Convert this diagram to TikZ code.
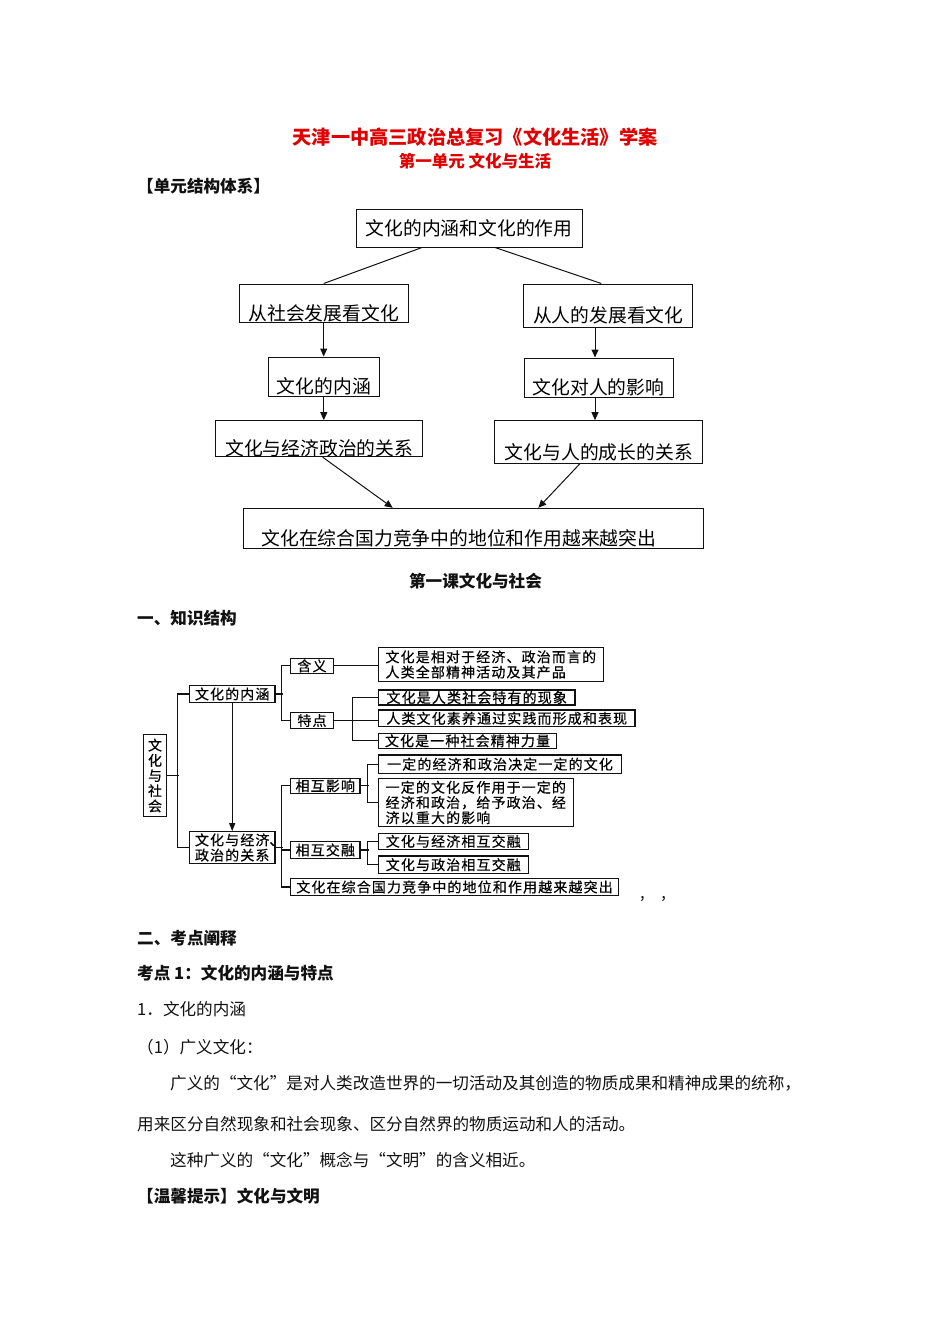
\documentclass[tikz,border=0pt]{standalone}
\usepackage{fontspec}
\setmainfont{Noto Sans CJK SC}
\newfontfamily\mapfont[LetterSpace=8,FakeBold=0.5]{Noto Sans CJK SC}
\usepackage{xcolor}
\usepackage{tikz}
\usetikzlibrary{arrows.meta,calc}
\definecolor{ink}{HTML}{111111}
\definecolor{titlered}{HTML}{E00000}
\tikzset{
  titletext/.style={font=\fontsize{19.2}{22}\selectfont\bfseries,text=titlered,inner sep=0pt},
  subtext/.style={font=\fontsize{16.5}{20}\selectfont\bfseries,text=titlered,inner sep=0pt},
  head/.style={font=\fontsize{16.6}{20}\selectfont\bfseries,text=ink,anchor=west,inner sep=0pt},
  body/.style={font=\fontsize{16.6}{20}\selectfont,text=ink,anchor=west,inner sep=0pt},
  ubox/.style={draw=ink,line width=1pt,inner xsep=3pt,inner ysep=0pt,align=center,font=\fontsize{18.8}{22}\selectfont},
  lowtext/.style={text height=35pt,text depth=0.8pt},
  uline/.style={draw=ink,line width=1pt},
  uarr/.style={-{Triangle[length=8pt,width=7pt]},line width=1pt,draw=ink},
  kbox/.style={draw=ink,line width=1.2pt,inner sep=0pt,font=\mapfont\fontsize{14}{15.2}\selectfont},
  kline/.style={draw=ink,line width=1.2pt},
  karr/.style={-{Triangle[length=8pt,width=6pt]},line width=1.2pt,draw=ink}
}
\begin{document}
\begin{tikzpicture}[x=1pt,y=-1pt]
  \useasboundingbox (0,0) rectangle (950,1344);
  \node[titletext] (title) at (475,137) {天津一中高三政治总复习《文化生活》学案};
  \node[subtext] (unitname) at (475,161) {第一单元\ 文化与生活};
  \node[head] (unithead) at (137,186) {【单元结构体系】};

  \node[ubox,minimum width=226pt,minimum height=38pt] (core) at (469,228) {文化的内涵和文化的作用};
  \node[ubox,lowtext,minimum width=169pt,minimum height=38pt] (soc) at (323.7,303) {从社会发展看文化};
  \node[ubox,lowtext,minimum width=169pt,minimum height=43pt] (hum) at (608.3,305.5) {从人的发展看文化};
  \node[ubox,lowtext,minimum width=111pt,minimum height=39pt] (meaning) at (323.8,376.5) {文化的内涵};
  \node[ubox,lowtext,minimum width=149pt,minimum height=39pt] (infl) at (598.5,377.5) {文化对人的影响};
  \node[ubox,lowtext,minimum width=207pt,minimum height=36pt] (ecpo) at (319.2,438.7) {文化与经济政治的关系};
  \node[ubox,lowtext,minimum width=208pt,minimum height=42.6pt] (grow) at (598.8,442) {文化与人的成长的关系};
  \node[ubox,lowtext,minimum width=460pt,minimum height=40pt] (power) at (473.3,528.3) {文化在综合国力竞争中的地位和作用越来越突出\hspace*{29pt}};
  \draw[uline] ($(core.south)+(-47,0)$) -- (soc.north);
  \draw[uline] ($(core.south)+(26,0)$) -- ($(hum.north)+(-7,0)$);
  \draw[uarr] (soc.south) -- (soc.south |- meaning.north);
  \draw[uarr] (meaning.south) -- (meaning.south |- ecpo.north);
  \draw[uarr] ($(infl.north |- hum.south)+(-3.5,0)$) -- ($(infl.north)+(-3.5,0)$);
  \draw[uarr] ($(infl.south)+(-3.5,0)$) -- ($(infl.south |- grow.north)+(-3.5,0)$);
  \draw[uarr] ($(ecpo.south)+(3.5,0)$) -- ($(power.north)+(-80.6,0)$);
  \draw[uarr] ($(grow.south)+(-19,0)$) -- ($(power.north)+(65,0)$);

  \node[head,anchor=center] (lesson) at (475.5,581) {第一课文化与社会};
  \node[head] (knowhead) at (137,618) {一、知识结构};

  \node[kbox,minimum width=23.4pt,minimum height=82.4pt,align=center] (ws) at (155,775.5) {文\\化\\与\\社\\会};
  \node[kbox,minimum width=85.7pt,minimum height=17pt] (nh) at (232.2,694) {文化的内涵};
  \node[kbox,minimum width=85.7pt,minimum height=31.6pt,align=left] (gx) at (232.2,847.5) {文化与经济\rlap{、}\\政治的关系};
  \node[kbox,minimum width=42.6pt,minimum height=15pt] (hy) at (312,665.8) {含义};
  \node[kbox,minimum width=42.6pt,minimum height=16pt] (td) at (312,720.5) {特点};
  \node[kbox,minimum width=225pt,minimum height=34.4pt,align=left] (dy) at (490.8,664.5) {文化是相对于经济、政治而言的\\人类全部精神活动及其产品};
  \node[kbox,minimum width=196.7pt,minimum height=15pt] (t1) at (476.7,697.5) {文化是人类社会特有的现象};
  \node[kbox,minimum width=256.7pt,minimum height=16.7pt] (t2) at (506.7,718.3) {人类文化素养通过实践而形成和表现};
  \node[kbox,minimum width=178.4pt,minimum height=15pt] (t3) at (467.5,740.8) {文化是一种社会精神力量};
  \node[kbox,minimum width=243.4pt,minimum height=18.3pt] (y1) at (500,764.2) {一定的经济和政治决定一定的文化};
  \node[kbox,minimum width=195pt,minimum height=48.4pt,align=left] (y2) at (475.8,802.5) {一定的文化反作用于一定的\\经济和政治，给予政治、经\\济以重大的影响};
  \node[kbox,minimum width=69.3pt,minimum height=15pt] (yx) at (325.3,785.8) {相互影响};
  \node[kbox,minimum width=69.3pt,minimum height=16.6pt] (jr) at (325.3,850) {相互交融};
  \node[kbox,minimum width=150pt,minimum height=16pt] (j1) at (453.3,841.3) {文化与经济相互交融};
  \node[kbox,minimum width=150pt,minimum height=17.3pt] (j2) at (453.3,864.7) {文化与政治相互交融};
  \node[kbox,minimum width=327.6pt,minimum height=17pt] (dw) at (454.5,887) {文化在综合国力竞争中的地位和作用越来越突出};
  \draw[kline] (ws.east) -- ++(11.3,0);
  \draw[kline] (nh.west) -- ++(-11.4,0) |- (gx.west);
  \draw[karr] (nh) -- (gx);
  \draw[kline] (nh.east) -- ++(7.3,0);
  \draw[kline] (hy.west) -- ++(-8.4,0) |- (td.west);
  \draw[kline] (hy.east) -- (hy.east -| dy.west);
  \draw[kline] (td.east) -- (td.east -| t2.west);
  \draw[kline] (t1.west) -- ++(-25,0) |- (t3.west);
  \draw[kline] (gx.east) -- ++(7.3,0);
  \draw[kline] (yx.west) -- ++(-8.4,0) |- (dw.west);
  \draw[kline] (jr.west) -- ++(-8.4,0);
  \draw[kline] (yx.east) -- ++(8.3,0);
  \draw[kline] (y1.west) -- ++(-10,0) |- (y2.west);
  \draw[kline] (jr.east) -- ++(8.3,0);
  \draw[kline] (j1.west) -- ++(-10,0) |- (j2.west);
  \node[body] (commas) at (640,899) {,\quad,};

  \node[head] (sec2) at (137,938) {二、考点阐释};
  \node[head] (point1) at (137,973) {考点 1：文化的内涵与特点};
  \node[body] (item1) at (137,1009) {1．文化的内涵};
  \node[body] (item11) at (137,1047) {（1）广义文化：};
  \node[body] (para1) at (170,1083) {广义的“文化”是对人类改造世界的一切活动及其创造的物质成果和精神成果的统称，};
  \node[body] (para2) at (137,1124) {用来区分自然现象和社会现象、区分自然界的物质运动和人的活动。};
  \node[body] (para3) at (170,1160) {这种广义的“文化”概念与“文明”的含义相近。};
  \node[head] (tiphead) at (137,1196) {【温馨提示】文化与文明};
\end{tikzpicture}
\end{document}
